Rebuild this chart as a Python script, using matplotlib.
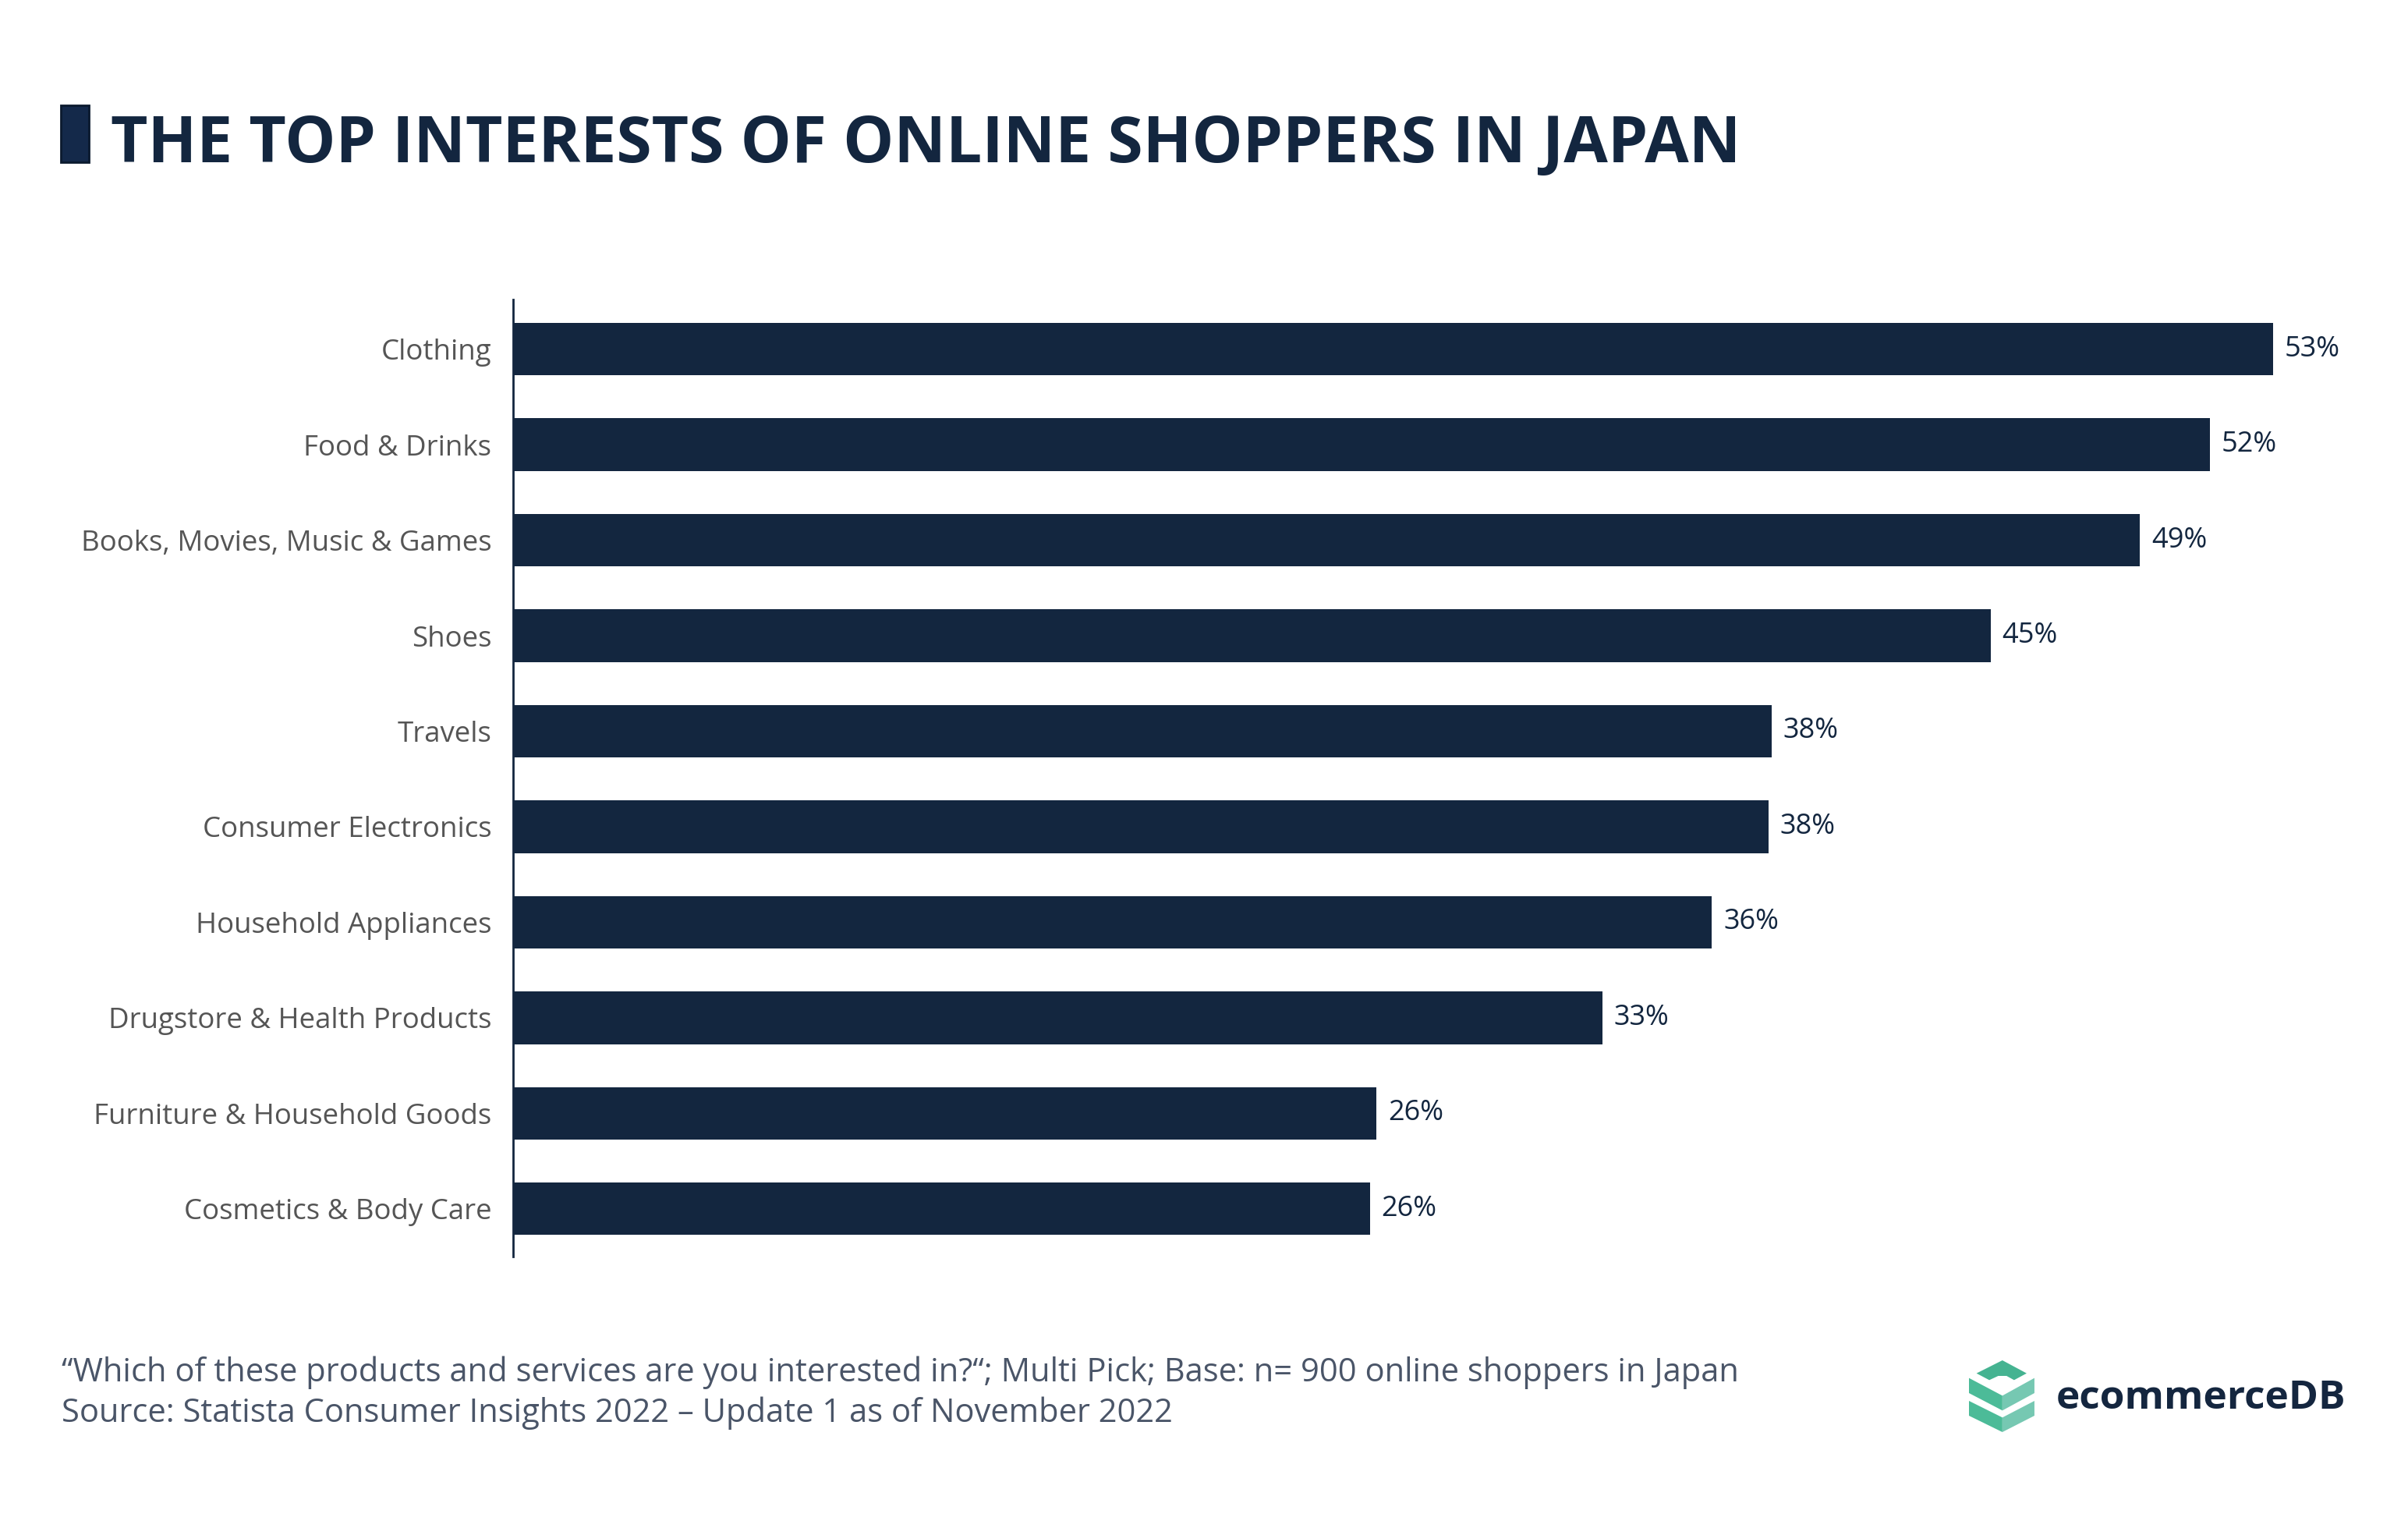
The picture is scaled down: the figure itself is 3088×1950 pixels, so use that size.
import matplotlib
matplotlib.use("Agg")
import matplotlib.pyplot as plt
from matplotlib.patches import Polygon, Rectangle

# data
categories = ["Clothing", "Food & Drinks", "Books, Movies, Music & Games", "Shoes",
              "Travels", "Consumer Electronics", "Household Appliances",
              "Drugstore & Health Products", "Furniture & Household Goods",
              "Cosmetics & Body Care"]
shares = [53.0, 51.1, 49.0, 44.5, 37.9, 37.8, 36.1, 32.8, 26.0, 25.8]
share_labels = ["53%", "52%", "49%", "45%", "38%", "38%", "36%", "33%", "26%", "26%"]

title = "THE TOP INTERESTS OF ONLINE SHOPPERS IN JAPAN"
note = "\u201cWhich of these products and services are you interested in?\u201c; Multi Pick; Base: n= 900 online shoppers in Japan"
source = "Source: Statista Consumer Insights 2022 \u2013 Update 1 as of November 2022"

navy = "#13263f"
W, H = 3088, 1950

plt.rcParams["font.family"] = ["Open Sans", "DejaVu Sans"]

fig = plt.figure(figsize=(W / 100, H / 100), dpi=100)
fig.patch.set_facecolor("white")

# axes placed in pixel terms
ax_left, ax_top, ax_bottom = 658, 384, 1611
xmax = 55.0
px_per_pt = 42.58
ax = fig.add_axes([ax_left / W, 1 - ax_bottom / H,
                   xmax * px_per_pt / W, (ax_bottom - ax_top) / H])

ypos = list(range(len(categories)))
ax.barh(ypos, shares, height=0.55, color=navy)
ax.set_xlim(0, xmax)
ax.set_ylim(len(categories) - 0.5, -0.52)

for y, v, lab in zip(ypos, shares, share_labels):
    ax.text(v + 0.35, y, lab, va="center", ha="left",
            fontsize=26, color=navy)

ax.set_yticks(ypos)
ax.set_yticklabels(categories, fontsize=26.4, color="#555555")
ax.tick_params(axis="y", length=0, pad=20)
ax.set_xticks([])
for s in ["top", "right", "bottom"]:
    ax.spines[s].set_visible(False)
ax.spines["left"].set_color(navy)
ax.spines["left"].set_linewidth(2)

# title with marker block
fig.patches.append(Rectangle((78 / W, 1 - 208 / H), 36 / W, 73 / H,
                             transform=fig.transFigure, facecolor="#14294a",
                             edgecolor="#0b1a2e", linewidth=2))
fig.text(142 / W, 1 - 208 / H, title, fontsize=59, fontweight="bold",
         color=navy, ha="left", va="baseline")

# footer
fig.text(79 / W, 1 - 1760 / H, note, fontsize=30, color="#4a5568",
         ha="left", va="center")
fig.text(79 / W, 1 - 1812 / H, source, fontsize=30, color="#4a5568",
         ha="left", va="center")

# logo: stacked cube icon
def pt(zx, zy):
    return ((2500 + zx / 2.8) / W, 1 - (1730 + zy / 3) / H)

shapes = [
    ([(97, 92), (190, 42), (277, 92), (232, 118), (205, 102), (175, 102), (143, 118)], "#45b391"),
    ([(70, 110), (190, 178), (190, 235), (70, 168)], "#4cbb98"),
    ([(190, 178), (305, 110), (305, 168), (190, 235)], "#76c8b2"),
    ([(70, 198), (190, 262), (190, 318), (70, 255)], "#4cbb98"),
    ([(190, 262), (305, 198), (305, 255), (190, 318)], "#76c8b2"),
]
for verts, col in shapes:
    fig.patches.append(Polygon([pt(*p) for p in verts], closed=True,
                               transform=fig.transFigure, facecolor=col,
                               edgecolor="none"))
fig.text(2637 / W, 1 - 1806 / H, "ecommerceDB", fontsize=37, fontweight="bold",
         color="#14263f", ha="left", va="baseline")

fig.savefig("out.png", dpi=100, facecolor="white")
